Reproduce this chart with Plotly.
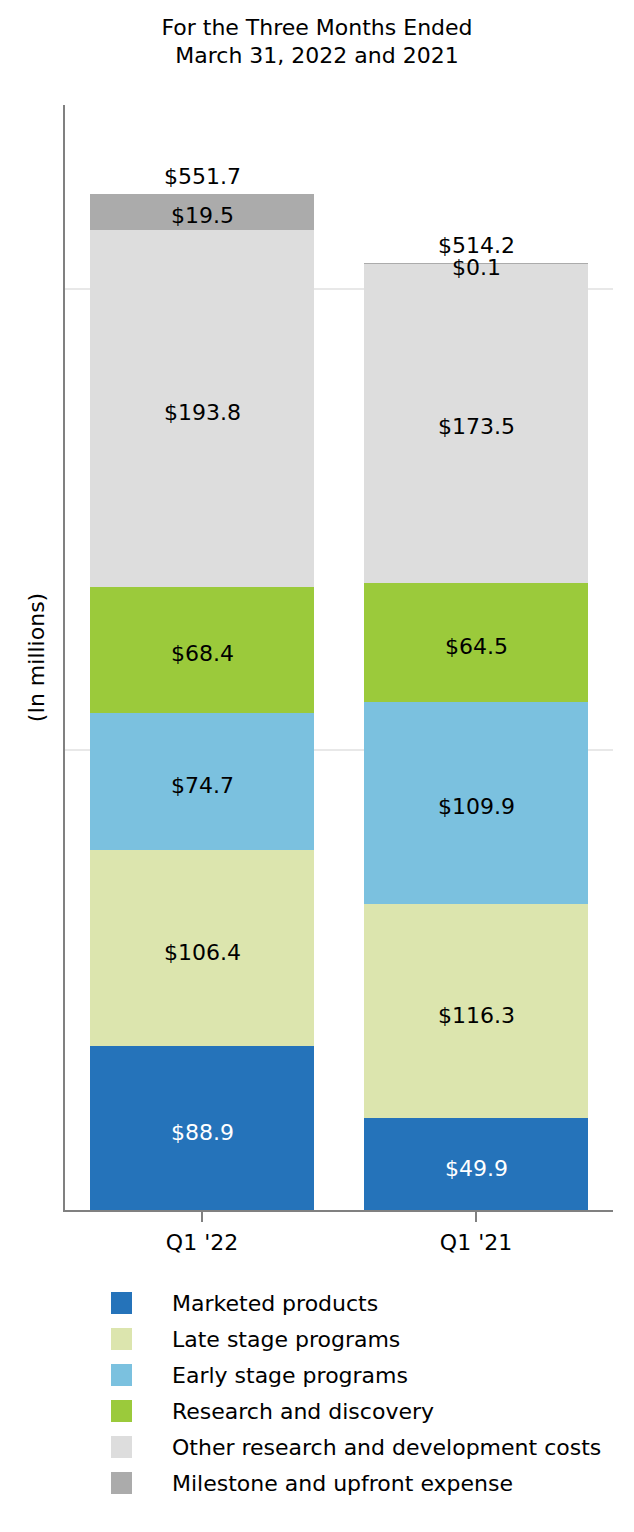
import plotly.graph_objects as go

categories = ["Q1 '22", "Q1 '21"]
series_names = [
    "Marketed products",
    "Late stage programs",
    "Early stage programs",
    "Research and discovery",
    "Other research and development costs",
    "Milestone and upfront expense",
]
marketed = [88.9, 49.9]
late_stage = [106.4, 116.3]
early_stage = [74.7, 109.9]
research = [68.4, 64.5]
other_rd = [193.8, 173.5]
milestone = [19.5, 0.1]
totals = [551.7, 514.2]

series_values = [marketed, late_stage, early_stage, research, other_rd, milestone]
colors = ["#2573BA", "#DCE5AE", "#7BC1DF", "#9BCA3B", "#DDDDDD", "#ABABAB"]
label_colors = ["white", "black", "black", "black", "black", "black"]

FONT = "DejaVu Sans"
FS = 22

# page body has an 8px margin; figure coords = page coords - 8
W, H = 618, 1516
L, R, T, B = 57, 13, 97, 314
plot_w = W - L - R
plot_h = H - T - B

fig = go.Figure()
for name, vals, col in zip(series_names, series_values, colors):
    fig.add_trace(go.Bar(
        x=categories, y=vals, name=name, marker=dict(color=col, line=dict(width=0)),
        showlegend=False, hoverinfo="skip", textposition="none",
    ))

annotations = []
for ci, cat in enumerate(categories):
    base = 0.0
    for si, vals in enumerate(series_values):
        v = vals[ci]
        annotations.append(dict(
            x=cat, y=base + v / 2, xref="x", yref="y", text=f"${v:.1f}",
            showarrow=False, font=dict(family=FONT, size=FS, color=label_colors[si]),
            yanchor="middle", yshift=-4,
        ))
        base += v
    annotations.append(dict(
        x=cat, y=totals[ci], xref="x", yref="y", text=f"${totals[ci]:.1f}",
        showarrow=False, font=dict(family=FONT, size=FS, color="black"),
        yanchor="bottom", yshift=3,
    ))

# manual legend (figure pixel coords)
shapes = []
leg_x0_px, leg_x1_px = 103, 124
leg_text_px = 162
leg_y0_px = 1295
leg_step = 36
for i, (name, col) in enumerate(zip(series_names, colors)):
    cy = leg_y0_px + i * leg_step
    shapes.append(dict(
        type="rect", xref="paper", yref="paper",
        x0=(leg_x0_px - L) / plot_w, x1=(leg_x1_px - L) / plot_w,
        y0=(T + plot_h - (cy + 11)) / plot_h, y1=(T + plot_h - (cy - 11)) / plot_h,
        fillcolor=col, line=dict(width=0),
    ))
    annotations.append(dict(
        x=(leg_text_px - L) / plot_w, y=(T + plot_h - cy) / plot_h,
        xref="paper", yref="paper", text=name, showarrow=False,
        xanchor="left", yanchor="middle",
        font=dict(family=FONT, size=FS, color="black"),
    ))

fig.update_layout(
    width=W, height=H,
    margin=dict(l=L, r=R, t=T, b=B),
    paper_bgcolor="white", plot_bgcolor="white",
    barmode="stack", bargap=0.18,
    showlegend=False,
    title=dict(
        text="For the Three Months Ended<br>March 31, 2022 and 2021",
        x=0.5, xanchor="center", xref="container",
        y=1 - 26.5 / H, yanchor="middle", yref="container",
        font=dict(family=FONT, size=FS, color="black"),
    ),
    font=dict(family=FONT, size=FS, color="black"),
    annotations=annotations,
    shapes=shapes,
)
fig.update_xaxes(
    showline=True, linecolor="#808080", linewidth=2,
    ticks="outside", ticklen=10, tickcolor="#808080", tickwidth=2,
    ticklabelstandoff=2,
    tickfont=dict(family=FONT, size=FS, color="black"),
    showgrid=False, zeroline=False,
)
fig.update_yaxes(
    range=[0, 600], tickvals=[0, 250, 500], showticklabels=False,
    showgrid=True, gridcolor="#E8E8E8", gridwidth=2,
    showline=True, linecolor="#808080", linewidth=2, zeroline=False,
    title=dict(text="(In millions)", font=dict(family=FONT, size=FS, color="black"), standoff=12),
)

fig.write_html("out.html")
